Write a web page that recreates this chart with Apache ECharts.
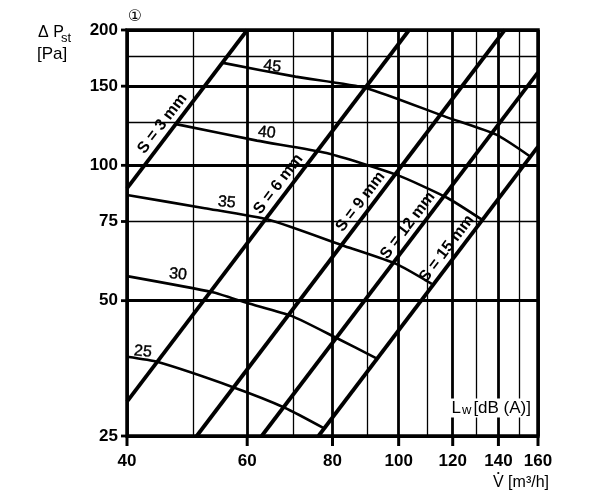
<!DOCTYPE html>
<html>
<head>
<meta charset="utf-8">
<script src="https://cdn.jsdelivr.net/npm/echarts@6/dist/echarts.min.js"></script>
<style>
    html, body { margin: 0; padding: 0; background: #fff; }
    #chart { width: 600px; height: 499px; }
</style>
</head>
<body>
<div id="chart"></div>
<script>
    // Axis ticks and grid lines
    const xTicks = [40, 60, 80, 100, 120, 140, 160];
    const xGrid = [40, 50, 60, 70, 80, 90, 100, 110, 120, 130, 140, 150, 160];
    const xMajor = [40, 60, 80, 100, 120, 140, 160];
    const yTicks = [25, 50, 75, 100, 150, 200];
    const yGrid = [25, 50, 75, 100, 125, 150, 175, 200];
    const yMajor = [25, 50, 100, 150, 200];

    // Damper settings S (straight lines on log-log)
    const sNames = ["S = 3 mm", "S = 6 mm", "S = 9 mm", "S = 12 mm", "S = 15 mm"];
    const s3 = [[40, 88.9], [60, 200]];
    const s6 = [[40, 29.8], [103.6, 200]];
    const s9 = [[50.6, 25], [143, 200]];
    const s12 = [[63, 25], [160, 161]];
    const s15 = [[76.3, 25], [160, 110]];

    // Sound power level curves Lw [dB(A)]
    const lwNames = ["45", "40", "35", "30", "25"];
    const lw45 = [[55.3, 169], [70.6, 157.5], [89.7, 148.5], [117.5, 128], [139, 117], [156, 104.5]];
    const lw40 = [[47.2, 123.5], [62, 113.5], [78.4, 106.5], [99.6, 95.1], [117.9, 84.6], [132.6, 75.6]];
    const lw35 = [[40, 85.9], [52, 80.3], [64.7, 75.6], [83.4, 66.1], [99.3, 60.3], [111.8, 54.5]];
    const lw30 = [[40, 56.7], [53.4, 52.2], [60, 49.4], [69.8, 46.2], [81.1, 41.3], [92.8, 37.2]];
    const lw25 = [[40, 37.5], [44.4, 36.5], [57.2, 32.1], [68.1, 28.9], [77.8, 26.0]];

    const sLines = [s3, s6, s9, s12, s15];
    const lwLines = [lw45, lw40, lw35, lw30, lw25];

    // label placement (pressure on the S line where its label sits, point for Lw labels)
    const sLabelP = [119.7, 87.8, 80.2, 71.0, 63.1];
    const lwLabelAt = [[65.3, 165.8], [64.1, 118.2], [56.0, 82.7], [47.5, 57.2], [42.2, 38.5]];

    const FONT = "'Liberation Sans', Arial, Helvetica, sans-serif";

    const chart = echarts.init(document.getElementById("chart"));

    const gridSeries = {
        type: "line",
        data: [[40, 25]],
        showSymbol: false,
        lineStyle: { width: 0 },
        silent: true,
        z: 1,
        markLine: {
            silent: true,
            symbol: ["none", "none"],
            label: { show: false },
            lineStyle: { color: "#000", type: "solid" },
            data: xGrid.map(function (v) {
                return { xAxis: v, lineStyle: { width: xMajor.includes(v) ? 2.8 : 1.3 } };
            }).concat(yGrid.map(function (v) {
                return { yAxis: v, lineStyle: { width: yMajor.includes(v) ? 2.8 : 1.3 } };
            })),
        },
    };

    const sSeries = sLines.map(function (d, i) {
        return {
            name: sNames[i],
            type: "line",
            data: d,
            showSymbol: false,
            silent: true,
            z: 3,
            lineStyle: { color: "#000", width: 3.8 },
        };
    });

    const lwSeries = lwLines.map(function (d, i) {
        return {
            name: lwNames[i],
            type: "line",
            data: d,
            smooth: 0.2,
            showSymbol: false,
            silent: true,
            z: 3,
            lineStyle: { color: "#000", width: 2.6 },
        };
    });

    chart.setOption({
        animation: false,
        grid: {
            left: 127, right: 62, top: 30, bottom: 63,
            show: true, borderColor: "#000", borderWidth: 3.5, backgroundColor: "transparent",
        },
        xAxis: {
            type: "log", logBase: 10, min: 40, max: 160,
            axisLine: { show: false }, axisTick: { show: false },
            axisLabel: { show: false }, splitLine: { show: false },
        },
        yAxis: {
            type: "log", logBase: 10, min: 25, max: 200,
            axisLine: { show: false }, axisTick: { show: false },
            axisLabel: { show: false }, splitLine: { show: false },
        },
        series: [gridSeries].concat(sSeries, lwSeries),
    });

    // --- ticks, labels and annotations placed through the axis scales ---
    const px = function (p) { return chart.convertToPixel({ gridIndex: 0 }, p); };
    const els = [];

    yTicks.forEach(function (v) {
        const p = px([40, v]);
        els.push({ type: "line", shape: { x1: p[0] - 6, y1: p[1], x2: p[0], y2: p[1] }, style: { stroke: "#000", lineWidth: 2.8 }, z: 50 });
        els.push({ type: "text", x: p[0] - 9, y: p[1], style: { text: String(v), font: "bold 17px " + FONT, fill: "#000", align: "right", verticalAlign: "middle" }, z: 50 });
    });

    xTicks.forEach(function (v) {
        const p = px([v, 25]);
        els.push({ type: "line", shape: { x1: p[0], y1: p[1], x2: p[0], y2: p[1] + 10 }, style: { stroke: "#000", lineWidth: 3 }, z: 50 });
        els.push({ type: "text", x: p[0], y: p[1] + 25, style: { text: String(v), font: "bold 17px " + FONT, fill: "#000", align: "center", verticalAlign: "middle" }, z: 50 });
    });

    // S labels, rotated along each line, sitting on its upper-left side
    // (z 2: their white box hides grid lines but not the curves)
    sLines.forEach(function (d, i) {
        const a = px(d[0]), b = px(d[1]);
        const ang = Math.atan2(-(b[1] - a[1]), b[0] - a[0]);
        const lp0 = Math.log(d[0][1]), lp1 = Math.log(d[1][1]);
        const t = (Math.log(sLabelP[i]) - lp0) / (lp1 - lp0);
        const v = Math.exp(Math.log(d[0][0]) + t * (Math.log(d[1][0]) - Math.log(d[0][0])));
        const c = px([v, sLabelP[i]]);
        const off = 11;
        els.push({
            type: "text",
            x: c[0] - off * Math.sin(ang),
            y: c[1] - off * Math.cos(ang),
            rotation: ang,
            style: {
                text: sNames[i], font: "bold 16px " + FONT, fill: "#000",
                align: "center", verticalAlign: "middle",
                backgroundColor: "#fff", padding: [0, 2],
            },
            z: 2,
        });
    });

    lwLabelAt.forEach(function (q, i) {
        const c = px(q);
        els.push({
            type: "text", x: c[0], y: c[1], rotation: -0.1,
            style: { text: lwNames[i], font: "16px " + FONT, fill: "#000", stroke: "#000", lineWidth: 0.4, align: "center", verticalAlign: "middle" },
            z: 40,
        });
    });

    // Lw [dB (A)] key inside the plot
    const corner = px([160, 25]);
    els.push({
        type: "text", x: corner[0] - 5, y: corner[1] - 28,
        style: {
            text: "{l|L}{w|w}{t|[dB (A)]}",
            rich: {
                l: { font: "17px " + FONT, fill: "#000" },
                w: { font: "13px " + FONT, fill: "#000", verticalAlign: "bottom", padding: [0, 2, 0, 1] },
                t: { font: "17px " + FONT, fill: "#000" },
            },
            align: "right", verticalAlign: "middle",
            backgroundColor: "#fff", padding: [1, 2],
        },
        z: 40,
    });

    // axis titles
    els.push({ type: "text", x: 38, y: 33, style: { text: "\u0394 P", font: "16px " + FONT, fill: "#000", verticalAlign: "middle" } });
    els.push({ type: "text", x: 61, y: 38, style: { text: "st", font: "13px " + FONT, fill: "#000", verticalAlign: "middle" } });
    els.push({ type: "text", x: 37, y: 54, style: { text: "[Pa]", font: "17px " + FONT, fill: "#000", verticalAlign: "middle" } });
    els.push({ type: "text", x: 135, y: 17, style: { text: "\u2460", font: "16px 'DejaVu Sans', " + FONT, fill: "#000", align: "center", verticalAlign: "middle" } });
    const vx = corner[0] - 45;
    els.push({ type: "text", x: vx, y: 483, style: { text: "V [m\u00B3/h]", font: "16px " + FONT, fill: "#000", verticalAlign: "middle" } });
    els.push({ type: "circle", shape: { cx: vx + 5.3, cy: 473, r: 1.1 }, style: { fill: "#000" } });

    chart.setOption({ graphic: els });
</script>
</body>
</html>
